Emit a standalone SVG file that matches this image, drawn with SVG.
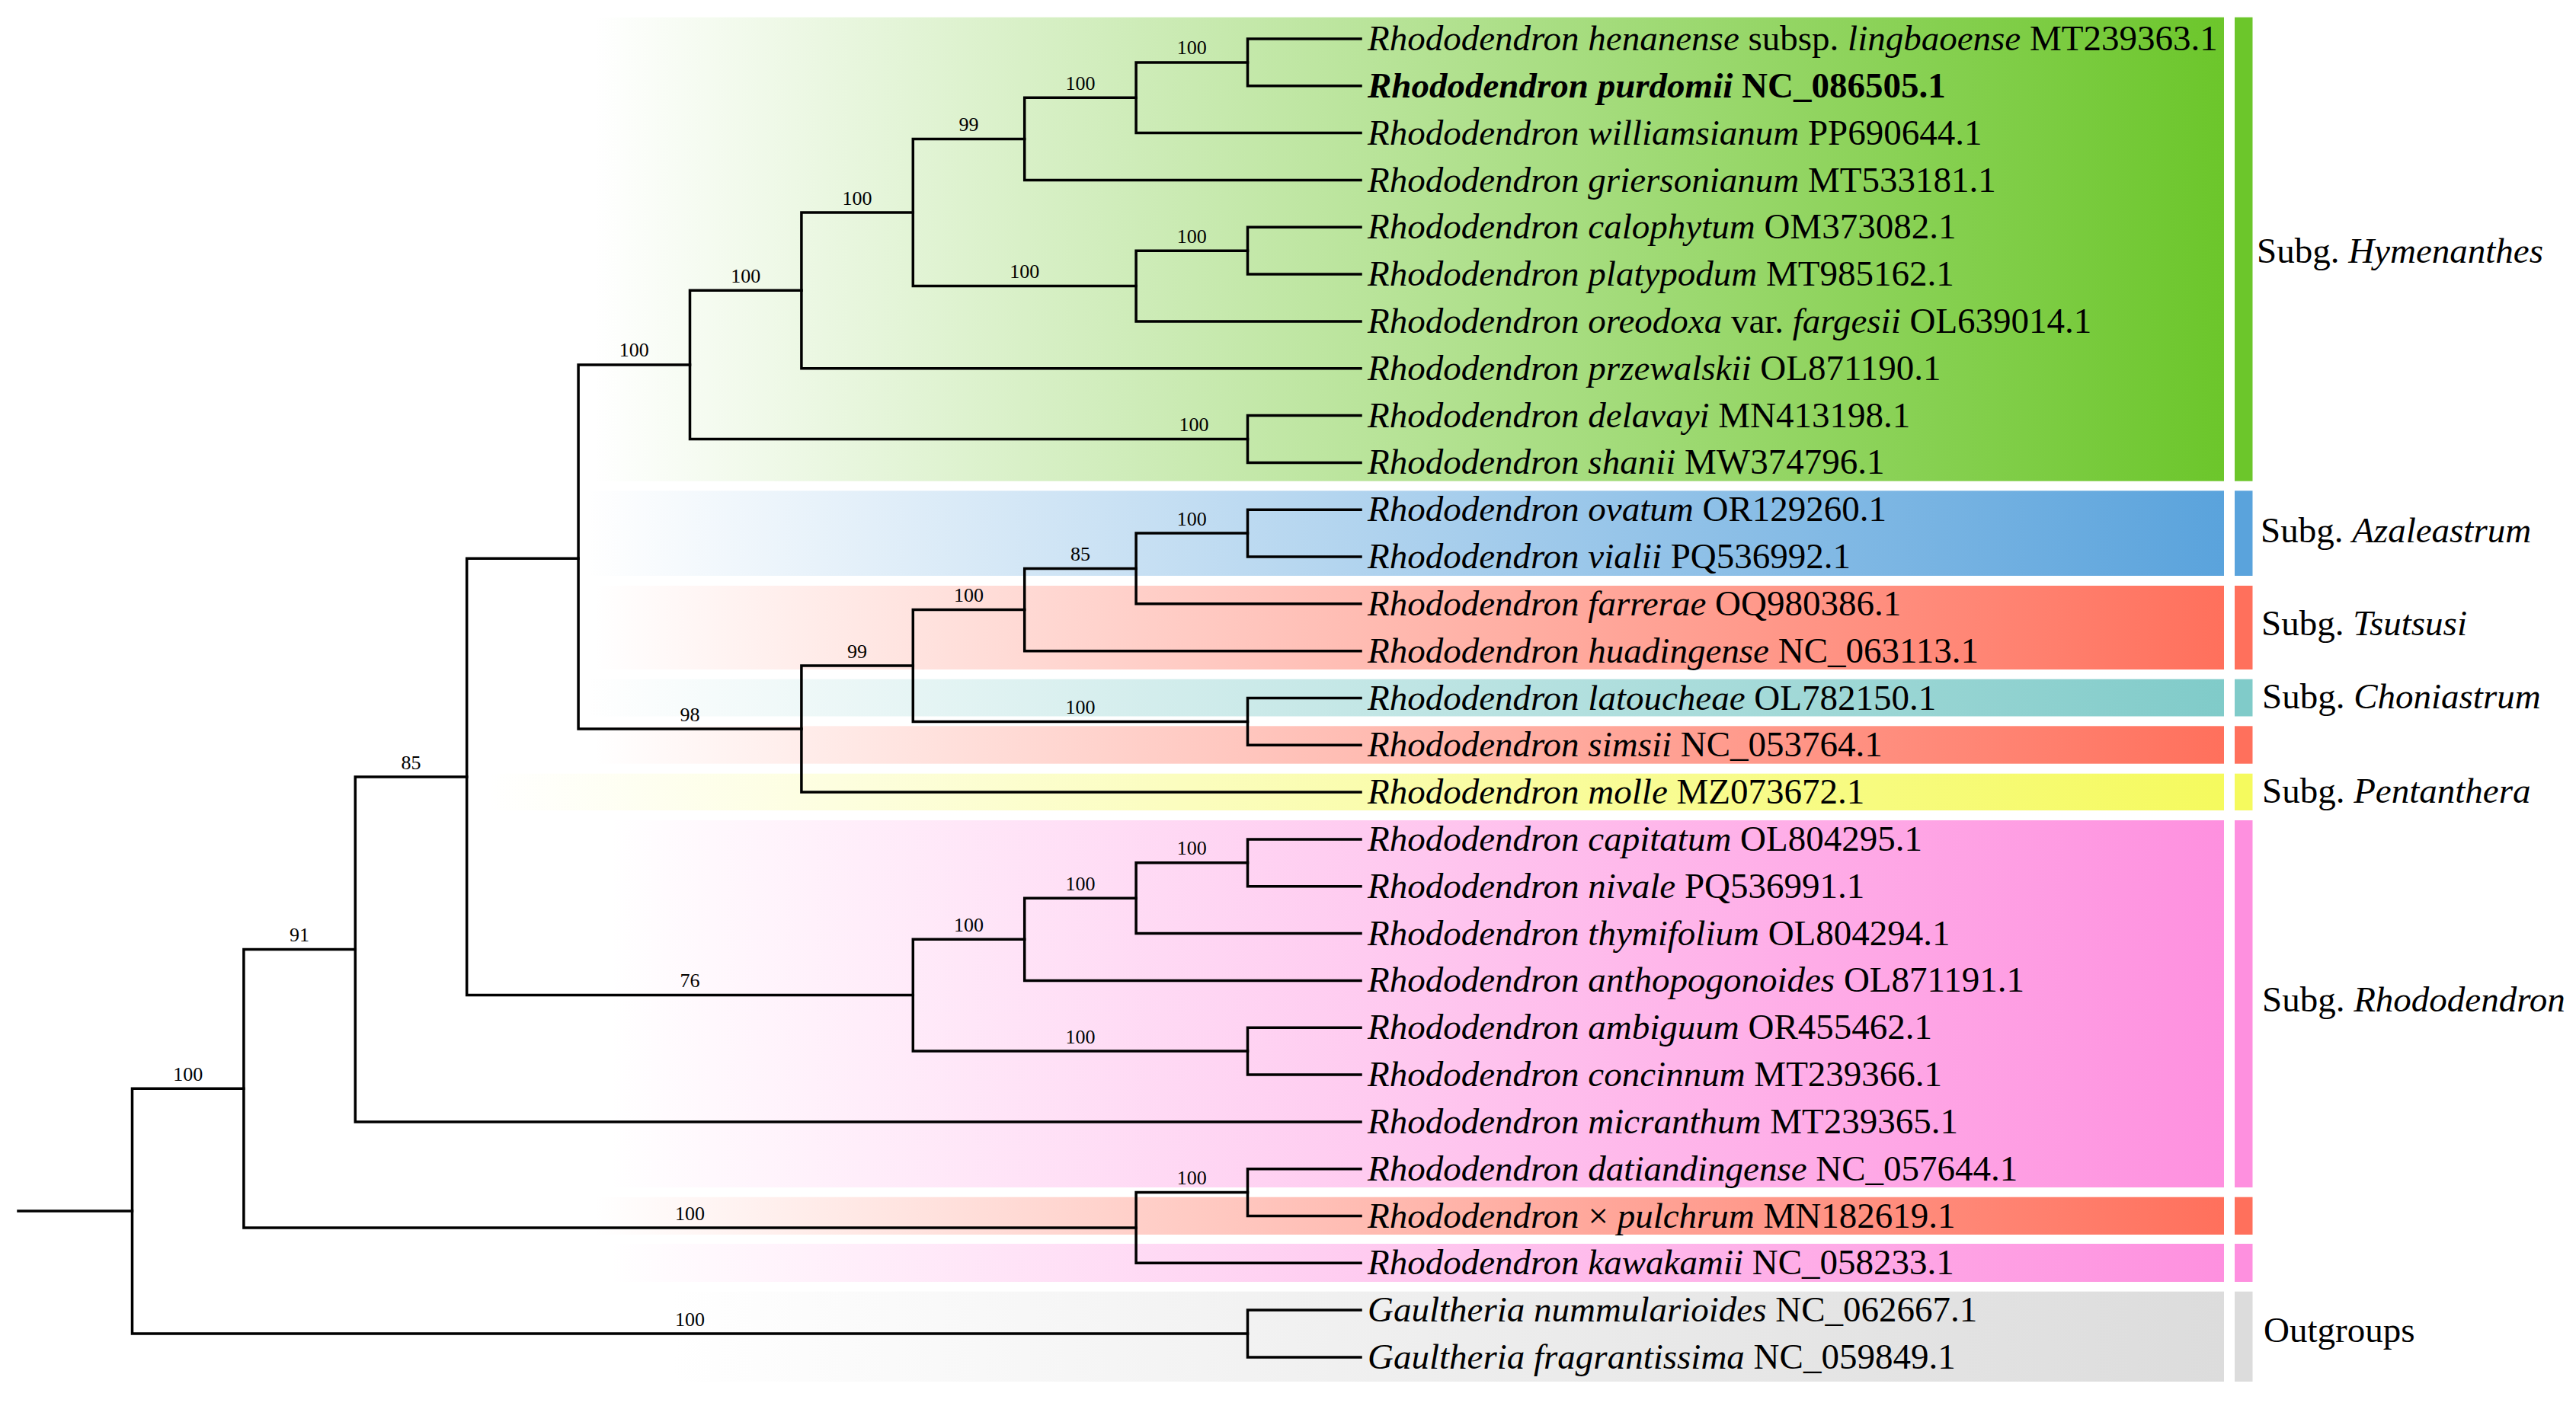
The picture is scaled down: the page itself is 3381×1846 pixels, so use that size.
<svg xmlns="http://www.w3.org/2000/svg" width="3381" height="1846" viewBox="0 0 3381 1846">
<style>
.leaf{font-family:"Liberation Serif","Times New Roman",serif;font-size:47px;fill:#000}
.i{font-style:italic}
.bs{font-family:"Liberation Serif","Times New Roman",serif;font-size:26px;fill:#000;text-anchor:middle}
.sub{font-family:"Liberation Serif","Times New Roman",serif;font-size:47px;fill:#000}
.br{fill:none;stroke:#000;stroke-width:3.5;stroke-linecap:square}
</style>
<defs>
<linearGradient id="gGreen" x1="0" y1="0" x2="1" y2="0"><stop offset="0" stop-color="#6cc62b" stop-opacity="0"/><stop offset="1" stop-color="#6cc62b"/></linearGradient>
<linearGradient id="gBlue" x1="0" y1="0" x2="1" y2="0"><stop offset="0" stop-color="#5aa3dc" stop-opacity="0"/><stop offset="1" stop-color="#5aa3dc"/></linearGradient>
<linearGradient id="gCoral" x1="0" y1="0" x2="1" y2="0"><stop offset="0" stop-color="#ff705c" stop-opacity="0"/><stop offset="1" stop-color="#ff705c"/></linearGradient>
<linearGradient id="gTeal" x1="0" y1="0" x2="1" y2="0"><stop offset="0" stop-color="#80cbc9" stop-opacity="0"/><stop offset="1" stop-color="#80cbc9"/></linearGradient>
<linearGradient id="gYellow" x1="0" y1="0" x2="1" y2="0"><stop offset="0" stop-color="#f5fa5e" stop-opacity="0"/><stop offset="1" stop-color="#f5fa5e"/></linearGradient>
<linearGradient id="gPink" x1="0" y1="0" x2="1" y2="0"><stop offset="0" stop-color="#fe90df" stop-opacity="0"/><stop offset="1" stop-color="#fe90df"/></linearGradient>
<linearGradient id="gGray" x1="0" y1="0" x2="1" y2="0"><stop offset="0" stop-color="#dcdcdc" stop-opacity="0"/><stop offset="1" stop-color="#dcdcdc"/></linearGradient>
</defs>
<rect width="3381" height="1846" fill="#fff"/>

<g id="bands">
<rect x="780" y="22.7" width="2139" height="609" fill="url(#gGreen)"/>
<rect x="770" y="644.3" width="2149" height="111.7" fill="url(#gBlue)"/>
<rect x="780" y="769" width="2139" height="110" fill="url(#gCoral)"/>
<rect x="770" y="891.7" width="2149" height="48.8" fill="url(#gTeal)"/>
<rect x="780" y="953.3" width="2139" height="49.4" fill="url(#gCoral)"/>
<rect x="640" y="1015.7" width="2279" height="48.3" fill="url(#gYellow)"/>
<rect x="800" y="1077" width="2119" height="482" fill="url(#gPink)"/>
<rect x="780" y="1571.7" width="2139" height="49.3" fill="url(#gCoral)"/>
<rect x="800" y="1633" width="2119" height="50" fill="url(#gPink)"/>
<rect x="880" y="1695.7" width="2039" height="118.3" fill="url(#gGray)"/>
</g>

<g id="bars">
<rect x="2933" y="22.7" width="23.5" height="609" fill="#6cc62b"/>
<rect x="2933" y="644.3" width="23.5" height="111.7" fill="#5aa3dc"/>
<rect x="2933" y="769" width="23.5" height="110" fill="#ff705c"/>
<rect x="2933" y="891.7" width="23.5" height="48.8" fill="#80cbc9"/>
<rect x="2933" y="953.3" width="23.5" height="49.4" fill="#ff705c"/>
<rect x="2933" y="1015.7" width="23.5" height="48.3" fill="#f5fa5e"/>
<rect x="2933" y="1077" width="23.5" height="482" fill="#fe90df"/>
<rect x="2933" y="1571.7" width="23.5" height="49.3" fill="#ff705c"/>
<rect x="2933" y="1633" width="23.5" height="50" fill="#fe90df"/>
<rect x="2933" y="1695.7" width="23.5" height="118.3" fill="#dcdcdc"/>
</g>

<g id="connectors" class="br">
<path d="M24,1590.1 H173.5"/>
<path d="M173.5,1429.2 V1751 M173.5,1429.2 H319.9 M173.5,1751 H1637.5"/>
<path d="M319.9,1246.4 V1612 M319.9,1246.4 H466.3 M319.9,1612 H1491.1"/>
<path d="M466.3,1020 V1472.9 M466.3,1020 H612.7 M466.3,1472.9 H1786"/>
<path d="M612.7,733.3 V1306.6 M612.7,733.3 H759.1 M612.7,1306.6 H1198.3"/>
<path d="M759.1,478.9 V957.05 M759.1,478.9 H905.5 M759.1,957.05 H1051.9"/>
<path d="M905.5,381.35 V576.5 M905.5,381.35 H1051.9 M905.5,576.5 H1637.5"/>
<path d="M1051.9,279 V483.7 M1051.9,279 H1198.3 M1051.9,483.7 H1786"/>
<path d="M1198.3,182.4 V375.55 M1198.3,182.4 H1344.7 M1198.3,375.55 H1491.1"/>
<path d="M1344.7,128.25 V236.5 M1344.7,128.25 H1491.1 M1344.7,236.5 H1786"/>
<path d="M1491.1,81.9 V174.6 M1491.1,81.9 H1637.5 M1491.1,174.6 H1786"/>
<path d="M1637.5,51 V112.8 M1637.5,51 H1786 M1637.5,112.8 H1786"/>
<path d="M1491.1,329.2 V421.9 M1491.1,329.2 H1637.5 M1491.1,421.9 H1786"/>
<path d="M1637.5,298.3 V360.1 M1637.5,298.3 H1786 M1637.5,360.1 H1786"/>
<path d="M1637.5,545.6 V607.4 M1637.5,545.6 H1786 M1637.5,607.4 H1786"/>
<path d="M1051.9,874 V1040.1 M1051.9,874 H1198.3 M1051.9,1040.1 H1786"/>
<path d="M1198.3,800.6 V947.4 M1198.3,800.6 H1344.7 M1198.3,947.4 H1637.5"/>
<path d="M1344.7,746.45 V854.7 M1344.7,746.45 H1491.1 M1344.7,854.7 H1786"/>
<path d="M1491.1,700.1 V792.8 M1491.1,700.1 H1637.5 M1491.1,792.8 H1786"/>
<path d="M1637.5,669.2 V731 M1637.5,669.2 H1786 M1637.5,731 H1786"/>
<path d="M1637.5,916.5 V978.3 M1637.5,916.5 H1786 M1637.5,978.3 H1786"/>
<path d="M1198.3,1233.3 V1380.1 M1198.3,1233.3 H1344.7 M1198.3,1380.1 H1637.5"/>
<path d="M1344.7,1179.2 V1287.4 M1344.7,1179.2 H1491.1 M1344.7,1287.4 H1786"/>
<path d="M1491.1,1132.85 V1225.6 M1491.1,1132.85 H1637.5 M1491.1,1225.6 H1786"/>
<path d="M1637.5,1101.9 V1163.8 M1637.5,1101.9 H1786 M1637.5,1163.8 H1786"/>
<path d="M1637.5,1349.2 V1411 M1637.5,1349.2 H1786 M1637.5,1411 H1786"/>
<path d="M1491.1,1565.6 V1658.3 M1491.1,1565.6 H1637.5 M1491.1,1658.3 H1786"/>
<path d="M1637.5,1534.7 V1596.5 M1637.5,1534.7 H1786 M1637.5,1596.5 H1786"/>
<path d="M1637.5,1720.1 V1782 M1637.5,1720.1 H1786 M1637.5,1782 H1786"/>
</g>

<g id="support">
<text class="bs" x="1564.3" y="71.4">100</text>
<text class="bs" x="1417.9" y="117.7">100</text>
<text class="bs" x="1271.5" y="171.9">99</text>
<text class="bs" x="1125.1" y="268.5">100</text>
<text class="bs" x="1564.3" y="318.7">100</text>
<text class="bs" x="1344.7" y="365">100</text>
<text class="bs" x="978.7" y="370.8">100</text>
<text class="bs" x="832.3" y="468.4">100</text>
<text class="bs" x="1567" y="566">100</text>
<text class="bs" x="1564.3" y="689.6">100</text>
<text class="bs" x="1417.9" y="735.9">85</text>
<text class="bs" x="1271.5" y="790.1">100</text>
<text class="bs" x="1125.1" y="863.5">99</text>
<text class="bs" x="1417.9" y="936.9">100</text>
<text class="bs" x="905.5" y="946.5">98</text>
<text class="bs" x="539.5" y="1009.5">85</text>
<text class="bs" x="1564.3" y="1122.3">100</text>
<text class="bs" x="1417.9" y="1168.7">100</text>
<text class="bs" x="1271.5" y="1222.8">100</text>
<text class="bs" x="393.1" y="1235.9">91</text>
<text class="bs" x="905.5" y="1296.1">76</text>
<text class="bs" x="1417.9" y="1369.6">100</text>
<text class="bs" x="246.7" y="1418.7">100</text>
<text class="bs" x="1564.3" y="1555.1">100</text>
<text class="bs" x="905.5" y="1601.5">100</text>
<text class="bs" x="905.5" y="1740.5">100</text>
</g>

<g id="leaf-henanense"><text class="leaf" x="1795" y="66"><tspan class="i">Rhododendron henanense</tspan> subsp. <tspan class="i">lingbaoense</tspan> MT239363.1</text></g>
<g id="leaf-purdomii"><text class="leaf" x="1795" y="127.8" font-weight="bold"><tspan class="i">Rhododendron purdomii</tspan> NC_086505.1</text></g>
<g id="leaf-williamsianum"><text class="leaf" x="1795" y="189.6"><tspan class="i">Rhododendron williamsianum</tspan> PP690644.1</text></g>
<g id="leaf-griersonianum"><text class="leaf" x="1795" y="251.5"><tspan class="i">Rhododendron griersonianum</tspan> MT533181.1</text></g>
<g id="leaf-calophytum"><text class="leaf" x="1795" y="313.3"><tspan class="i">Rhododendron calophytum</tspan> OM373082.1</text></g>
<g id="leaf-platypodum"><text class="leaf" x="1795" y="375.1"><tspan class="i">Rhododendron platypodum</tspan> MT985162.1</text></g>
<g id="leaf-oreodoxa"><text class="leaf" x="1795" y="436.9"><tspan class="i">Rhododendron oreodoxa</tspan> var. <tspan class="i">fargesii</tspan> OL639014.1</text></g>
<g id="leaf-przewalskii"><text class="leaf" x="1795" y="498.7"><tspan class="i">Rhododendron przewalskii</tspan> OL871190.1</text></g>
<g id="leaf-delavayi"><text class="leaf" x="1795" y="560.6"><tspan class="i">Rhododendron delavayi</tspan> MN413198.1</text></g>
<g id="leaf-shanii"><text class="leaf" x="1795" y="622.4"><tspan class="i">Rhododendron shanii</tspan> MW374796.1</text></g>
<g id="leaf-ovatum"><text class="leaf" x="1795" y="684.2"><tspan class="i">Rhododendron ovatum</tspan> OR129260.1</text></g>
<g id="leaf-vialii"><text class="leaf" x="1795" y="746"><tspan class="i">Rhododendron vialii</tspan> PQ536992.1</text></g>
<g id="leaf-farrerae"><text class="leaf" x="1795" y="807.8"><tspan class="i">Rhododendron farrerae</tspan> OQ980386.1</text></g>
<g id="leaf-huadingense"><text class="leaf" x="1795" y="869.7"><tspan class="i">Rhododendron huadingense</tspan> NC_063113.1</text></g>
<g id="leaf-latoucheae"><text class="leaf" x="1795" y="931.5"><tspan class="i">Rhododendron latoucheae</tspan> OL782150.1</text></g>
<g id="leaf-simsii"><text class="leaf" x="1795" y="993.3"><tspan class="i">Rhododendron simsii</tspan> NC_053764.1</text></g>
<g id="leaf-molle"><text class="leaf" x="1795" y="1055.1"><tspan class="i">Rhododendron molle</tspan> MZ073672.1</text></g>
<g id="leaf-capitatum"><text class="leaf" x="1795" y="1116.9"><tspan class="i">Rhododendron capitatum</tspan> OL804295.1</text></g>
<g id="leaf-nivale"><text class="leaf" x="1795" y="1178.8"><tspan class="i">Rhododendron nivale</tspan> PQ536991.1</text></g>
<g id="leaf-thymifolium"><text class="leaf" x="1795" y="1240.6"><tspan class="i">Rhododendron thymifolium</tspan> OL804294.1</text></g>
<g id="leaf-anthopogonoides"><text class="leaf" x="1795" y="1302.4"><tspan class="i">Rhododendron anthopogonoides</tspan> OL871191.1</text></g>
<g id="leaf-ambiguum"><text class="leaf" x="1795" y="1364.2"><tspan class="i">Rhododendron ambiguum</tspan> OR455462.1</text></g>
<g id="leaf-concinnum"><text class="leaf" x="1795" y="1426"><tspan class="i">Rhododendron concinnum</tspan> MT239366.1</text></g>
<g id="leaf-micranthum"><text class="leaf" x="1795" y="1487.9"><tspan class="i">Rhododendron micranthum</tspan> MT239365.1</text></g>
<g id="leaf-datiandingense"><text class="leaf" x="1795" y="1549.7"><tspan class="i">Rhododendron datiandingense</tspan> NC_057644.1</text></g>
<g id="leaf-pulchrum"><text class="leaf" x="1795" y="1611.5"><tspan class="i">Rhododendron</tspan> × <tspan class="i">pulchrum</tspan> MN182619.1</text></g>
<g id="leaf-kawakamii"><text class="leaf" x="1795" y="1673.3"><tspan class="i">Rhododendron kawakamii</tspan> NC_058233.1</text></g>
<g id="leaf-nummularioides"><text class="leaf" x="1795" y="1735.1"><tspan class="i">Gaultheria nummularioides</tspan> NC_062667.1</text></g>
<g id="leaf-fragrantissima"><text class="leaf" x="1795" y="1797"><tspan class="i">Gaultheria fragrantissima</tspan> NC_059849.1</text></g>

<g id="group-hymenanthes"><text class="sub" x="2962" y="345">Subg. <tspan class="i">Hymenanthes</tspan></text></g>
<g id="group-azaleastrum"><text class="sub" x="2967" y="712">Subg. <tspan class="i">Azaleastrum</tspan></text></g>
<g id="group-tsutsusi"><text class="sub" x="2968" y="834">Subg. <tspan class="i">Tsutsusi</tspan></text></g>
<g id="group-choniastrum"><text class="sub" x="2969" y="930">Subg. <tspan class="i">Choniastrum</tspan></text></g>
<g id="group-pentanthera"><text class="sub" x="2969" y="1054">Subg. <tspan class="i">Pentanthera</tspan></text></g>
<g id="group-rhododendron"><text class="sub" x="2969" y="1328">Subg. <tspan class="i">Rhododendron</tspan></text></g>
<g id="group-outgroups"><text class="sub" x="2971" y="1762">Outgroups</text></g>
</svg>
